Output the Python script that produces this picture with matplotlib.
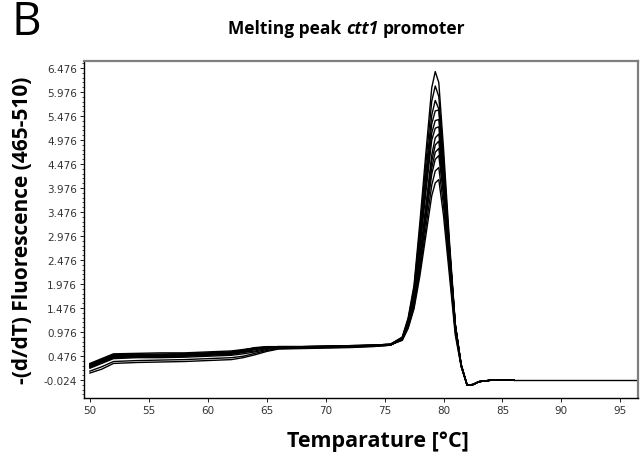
import matplotlib
matplotlib.use("Agg")
import numpy as np
import matplotlib.pyplot as plt
from matplotlib.ticker import FixedLocator

# temperature points shared by all melt traces (deg C)
temps = [50, 51, 52, 54, 56, 58, 60, 62, 63, 64, 65, 66, 68, 70, 72, 74, 75.5,
         76.5, 77, 77.5, 78, 78.5, 79, 79.3, 79.6, 80, 80.5, 81, 81.5, 82,
         82.5, 83, 84, 86]

# -(d/dT) fluorescence of each sample, baseline part (50 .. 75.5 C)
base = [
    [0.28, 0.38, 0.48, 0.50, 0.50, 0.51, 0.53, 0.55, 0.60, 0.65, 0.67, 0.67, 0.67, 0.68, 0.69, 0.70, 0.72],
    [0.30, 0.40, 0.50, 0.51, 0.51, 0.52, 0.54, 0.56, 0.58, 0.62, 0.65, 0.66, 0.66, 0.67, 0.68, 0.70, 0.72],
    [0.25, 0.35, 0.45, 0.47, 0.47, 0.48, 0.50, 0.52, 0.56, 0.62, 0.65, 0.66, 0.66, 0.67, 0.68, 0.69, 0.71],
    [0.32, 0.42, 0.52, 0.53, 0.54, 0.54, 0.56, 0.58, 0.61, 0.64, 0.66, 0.67, 0.67, 0.68, 0.69, 0.70, 0.72],
    [0.27, 0.37, 0.46, 0.47, 0.48, 0.49, 0.51, 0.53, 0.55, 0.58, 0.63, 0.66, 0.66, 0.67, 0.68, 0.69, 0.71],
    [0.22, 0.32, 0.42, 0.44, 0.44, 0.45, 0.47, 0.49, 0.52, 0.56, 0.61, 0.65, 0.65, 0.66, 0.67, 0.68, 0.70],
    [0.30, 0.40, 0.49, 0.50, 0.51, 0.52, 0.53, 0.55, 0.59, 0.63, 0.66, 0.67, 0.67, 0.68, 0.69, 0.70, 0.72],
    [0.12, 0.20, 0.32, 0.34, 0.35, 0.36, 0.38, 0.40, 0.44, 0.50, 0.57, 0.62, 0.63, 0.64, 0.65, 0.67, 0.70],
    [0.26, 0.36, 0.45, 0.46, 0.47, 0.48, 0.50, 0.52, 0.57, 0.62, 0.65, 0.66, 0.66, 0.67, 0.68, 0.69, 0.71],
    [0.16, 0.25, 0.36, 0.38, 0.39, 0.40, 0.42, 0.44, 0.47, 0.53, 0.59, 0.63, 0.64, 0.65, 0.66, 0.68, 0.70],
    [0.29, 0.39, 0.48, 0.49, 0.50, 0.51, 0.52, 0.54, 0.59, 0.64, 0.66, 0.67, 0.67, 0.67, 0.68, 0.70, 0.71],
    [0.24, 0.34, 0.44, 0.46, 0.46, 0.47, 0.49, 0.51, 0.55, 0.61, 0.65, 0.66, 0.66, 0.67, 0.68, 0.69, 0.71],
]

# melting peak part (76.5 .. 81.5 C)
peak = [
    [0.87, 1.27, 1.95, 3.27, 4.69, 6.06, 6.40, 6.17, 4.80, 2.88, 1.15, 0.26],
    [0.86, 1.24, 1.89, 3.13, 4.48, 5.78, 6.10, 5.88, 4.60, 2.78, 1.12, 0.27],
    [0.85, 1.21, 1.82, 2.99, 4.27, 5.49, 5.80, 5.62, 4.42, 2.70, 1.10, 0.27],
    [0.85, 1.19, 1.78, 2.90, 4.13, 5.31, 5.58, 5.60, 4.45, 2.75, 1.12, 0.28],
    [0.84, 1.17, 1.73, 2.80, 3.99, 5.12, 5.38, 5.40, 4.35, 2.72, 1.12, 0.28],
    [0.84, 1.15, 1.70, 2.72, 3.88, 4.97, 5.22, 5.25, 4.28, 2.70, 1.12, 0.29],
    [0.83, 1.14, 1.67, 2.55, 3.60, 4.66, 5.02, 5.10, 4.18, 2.65, 1.12, 0.30],
    [0.83, 1.12, 1.63, 2.49, 3.51, 4.53, 4.87, 4.95, 4.06, 2.57, 1.09, 0.30],
    [0.82, 1.11, 1.60, 2.42, 3.41, 4.39, 4.72, 4.80, 3.94, 2.50, 1.06, 0.29],
    [0.82, 1.10, 1.57, 2.36, 3.31, 4.26, 4.57, 4.65, 3.81, 2.42, 1.02, 0.28],
    [0.81, 1.07, 1.51, 2.25, 3.14, 4.03, 4.33, 4.40, 3.61, 2.29, 0.97, 0.26],
    [0.80, 1.05, 1.46, 2.15, 2.98, 3.81, 4.08, 4.15, 3.40, 2.16, 0.91, 0.25],
]

# undershoot and flat tail after the peak (82 .. 86 C), same for all samples
after = [-0.13, -0.12, -0.06, -0.03, -0.03]

# one sample was read out to the end of the ramp
tail_temps = [86, 90, 96.5]
tail_vals = [-0.03, -0.03, -0.03]

ytick_vals = [-0.024, 0.476, 0.976, 1.476, 1.976, 2.476, 2.976, 3.476,
              3.976, 4.476, 4.976, 5.476, 5.976, 6.476]
xtick_vals = [50, 55, 60, 65, 70, 75, 80, 85, 90, 95]

fig = plt.figure(figsize=(6.42, 4.77), dpi=100)
ax = fig.add_axes([84 / 642, 1 - 399 / 477, 554 / 642, 337 / 477])

for b, p in zip(base, peak):
    ax.plot(temps, b + p + after, color="black", lw=1.0)
ax.plot(tail_temps, tail_vals, color="black", lw=1.0)

ax.set_xlim(49.5, 96.5)
ax.set_ylim(-0.40, 6.62)

ax.yaxis.set_major_locator(FixedLocator(ytick_vals))
ax.set_yticklabels(["%.3f" % v for v in ytick_vals])
ax.yaxis.set_minor_locator(FixedLocator(np.arange(-0.324, 6.6, 0.1)))
ax.xaxis.set_major_locator(FixedLocator(xtick_vals))

tick_family = ["Liberation Sans Narrow", "DejaVu Sans"]
for lab in ax.get_xticklabels() + ax.get_yticklabels():
    lab.set_fontfamily(tick_family)
    lab.set_fontsize(7.5)
    lab.set_color("#333333")
ax.tick_params(which="major", length=3, width=0.6, pad=2)
ax.tick_params(which="minor", length=1.5, width=0.5)

for side in ["left", "bottom"]:
    ax.spines[side].set_color("black")
    ax.spines[side].set_linewidth(1.0)
for side in ["top", "right"]:
    ax.spines[side].set_color("#7f7f7f")
    ax.spines[side].set_linewidth(1.6)

lab_font = ["Open Sans", "DejaVu Sans"]
ax.set_xlabel("Temparature [°C]", fontsize=15.5, fontweight="bold",
              family=lab_font)
ax.xaxis.set_label_coords(0.53, -0.095)
ax.set_ylabel("-(d/dT) Fluorescence (465-510)", fontsize=15,
              fontweight="bold", family=lab_font, labelpad=8)

# title in three pieces so the gene name is fully italic
title_parts = [("Melting peak", "normal"), ("ctt1", "italic"), ("promoter", "normal")]
renderer = fig.canvas.get_renderer()
pieces = []
for txt, style in title_parts:
    t = fig.text(0, 0.94, txt, ha="left", va="center", fontsize=12.5,
                 fontweight="bold", style=style, family=lab_font)
    pieces.append(t)
probe = fig.text(0, 0, "a a", fontsize=12.5, fontweight="bold", family=lab_font)
probe2 = fig.text(0, 0, "aa", fontsize=12.5, fontweight="bold", family=lab_font)
gap = (probe.get_window_extent(renderer).width
       - probe2.get_window_extent(renderer).width) / fig.bbox.width
probe.remove()
probe2.remove()
widths = [t.get_window_extent(renderer).width / fig.bbox.width for t in pieces]
x = 0.54 - (sum(widths) + gap * (len(widths) - 1)) / 2
for t, w in zip(pieces, widths):
    t.set_x(x)
    x += w + gap

fig.text(0.018, 0.952, "B", fontsize=33, family=lab_font, va="center")

fig.savefig("out.png", dpi=100)
